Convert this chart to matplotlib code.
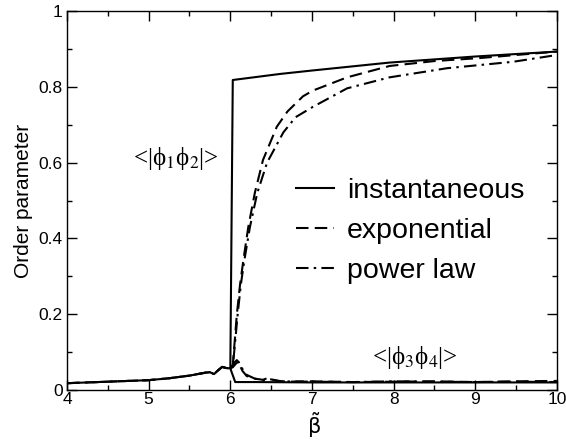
import matplotlib
matplotlib.use("Agg")
import matplotlib.pyplot as plt
from matplotlib.ticker import MultipleLocator

plt.rcParams['font.family'] = ['Liberation Sans', 'DejaVu Sans']

# common disordered-phase branch (all curves coincide)
x_low = [4.0, 4.5, 5.0, 5.25, 5.5, 5.7, 5.75, 5.8, 5.85, 5.9, 5.95, 6.0]
y_low = [0.018, 0.022, 0.026, 0.031, 0.038, 0.046, 0.047, 0.042, 0.052, 0.061, 0.058, 0.057]

# <|phi1 phi2|>
x_inst12 = [6.03, 6.61, 7.0, 7.95, 9.0, 10.0]
y_inst12 = [0.818, 0.834, 0.843, 0.864, 0.880, 0.893]
x_exp12 = [6.03, 6.08, 6.12, 6.16, 6.22, 6.30, 6.40, 6.57, 6.70, 6.89, 7.01, 7.43, 7.95, 8.5, 9.06, 9.5, 10.0]
y_exp12 = [0.066, 0.20, 0.28, 0.343, 0.43, 0.52, 0.607, 0.695, 0.735, 0.775, 0.79, 0.825, 0.855, 0.868, 0.876, 0.884, 0.893]
x_pow12 = [6.03, 6.09, 6.13, 6.17, 6.24, 6.33, 6.45, 6.65, 6.80, 7.01, 7.43, 7.95, 8.65, 9.46, 10.0]
y_pow12 = [0.060, 0.20, 0.28, 0.34, 0.43, 0.52, 0.60, 0.68, 0.72, 0.747, 0.796, 0.825, 0.849, 0.866, 0.884]

# <|phi3 phi4|>
x_inst34 = [6.06, 6.3, 7.0, 8.0, 9.0, 10.0]
y_inst34 = [0.021, 0.021, 0.020, 0.020, 0.020, 0.020]
x_exp34 = [6.03, 6.06, 6.08, 6.10, 6.15, 6.20, 6.30, 6.40, 6.45, 6.50, 6.60, 6.70, 7.0, 7.5, 8.0, 8.5, 9.0, 9.5, 10.0]
y_exp34 = [0.066, 0.075, 0.079, 0.072, 0.050, 0.037, 0.030, 0.027, 0.031, 0.028, 0.024, 0.022, 0.023, 0.021, 0.022, 0.023, 0.021, 0.023, 0.024]
x_pow34 = [6.03, 6.07, 6.10, 6.15, 6.20, 6.30, 6.40, 6.50, 6.60, 7.0, 7.5, 8.0, 8.5, 9.0, 9.5, 10.0]
y_pow34 = [0.060, 0.070, 0.075, 0.055, 0.040, 0.030, 0.026, 0.028, 0.023, 0.022, 0.021, 0.023, 0.022, 0.021, 0.022, 0.021]

labels = ["instantaneous", "exponential", "power law"]

fig = plt.figure(figsize=(5.66, 4.41), dpi=100)
ax = fig.add_axes([0.1184, 0.1156, 0.984 - 0.1184, 0.975 - 0.1156])

lw = 1.5
dash = (0, (6, 3))
dashdot = (0, (6, 2.5, 1.2, 2.5))
ax.plot(x_low + x_inst12, y_low + y_inst12, color='black', lw=lw, ls='-', label=labels[0])
ax.plot(x_low + x_exp12, y_low + y_exp12, color='black', lw=lw, ls=dash, label=labels[1])
ax.plot(x_low + x_pow12, y_low + y_pow12, color='black', lw=lw, ls=dashdot, label=labels[2])
ax.plot(x_low[-1:] + x_inst34, y_low[-1:] + y_inst34, color='black', lw=lw, ls='-')
ax.plot(x_low[-1:] + x_exp34, y_low[-1:] + y_exp34, color='black', lw=lw, ls=dash)
ax.plot(x_low[-1:] + x_pow34, y_low[-1:] + y_pow34, color='black', lw=lw, ls=dashdot)

ax.set_xlim(4, 10)
ax.set_ylim(0, 1)
ax.xaxis.set_major_locator(MultipleLocator(1))
ax.xaxis.set_minor_locator(MultipleLocator(0.5))
ax.yaxis.set_minor_locator(MultipleLocator(0.1))
ax.set_yticks([0, 0.2, 0.4, 0.6, 0.8, 1.0])
ax.set_yticklabels(['0', '0.2', '0.4', '0.6', '0.8', '1'])
ax.tick_params(which='both', direction='in', top=True, right=True, labelsize=12.5, width=1)
ax.tick_params(which='major', length=7, pad=3)
ax.tick_params(axis='x', which='major', pad=1.5)
ax.tick_params(which='minor', length=3.8)
for s in ax.spines.values():
    s.set_linewidth(1.0)

ax.set_ylabel("Order parameter", fontsize=15, labelpad=4)

# x label: beta with a tilde above it (single text)
fig.text(314 / 566, 1 - 425 / 441, r"$\tilde{\mathrm{\beta}}$", fontsize=15,
         math_fontfamily='dejavusans', ha='center', va='center')

serif = ['Liberation Serif', 'DejaVu Serif']
ax.text(5.33, 0.612, "<|ϕ$_1$ϕ$_2$|>", family=serif, math_fontfamily='stix',
        fontsize=18, ha='center', va='center')
ax.text(8.26, 0.087, "<|ϕ$_3$ϕ$_4$|>", family=serif, math_fontfamily='stix',
        fontsize=18, ha='center', va='center')

ax.legend(loc='upper left', bbox_to_anchor=(0.467, 0.56), frameon=False, fontsize=20.5,
          handlelength=1.35, handletextpad=0.45, labelspacing=0.5, borderaxespad=0, borderpad=0)

fig.savefig("out.png", dpi=100)
